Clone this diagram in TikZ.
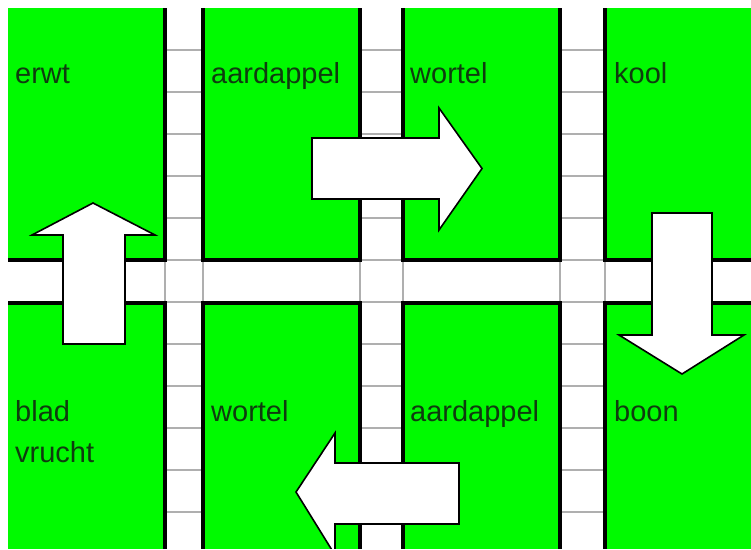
\documentclass[tikz,border=0pt]{standalone}
\usepackage{fontspec}
\setmainfont{Liberation Sans}
\definecolor{plotgreen}{RGB}{0,250,0}
\definecolor{labelcol}{RGB}{15,60,15}
\definecolor{tilegray}{RGB}{175,175,175}
\begin{document}
\begin{tikzpicture}[x=1pt,y=-1pt,
  plot/.style={fill=plotgreen, draw=black, line width=4pt},
  pathtile/.style={draw=tilegray, line width=1.3pt},
  bigarrow/.style={fill=white, draw=black, line width=1.6pt, line join=miter},
  lbl/.style={anchor=base west, inner sep=0pt, text=labelcol, font=\fontsize{29}{35}\selectfont}]
\useasboundingbox (0,0) rectangle (751,549);
\fill[white] (0,0) rectangle (751,549);
\begin{scope}
  \clip (8,8) rectangle (751,548);
  \fill[white] (8,8) rectangle (751,548);
  % plots
  \foreach \xa/\xb in {-20/165, 203/360, 403/560, 605/770} {
    \draw[plot] (\xa,-20) rectangle (\xb,260);
    \draw[plot] (\xa,303) rectangle (\xb,570);
  }
  % tiles of the paths
  \foreach \xa/\xb in {165/203, 360/403, 560/605} {
    \foreach \yy in {50,92,...,512} \draw[pathtile] (\xa+2,\yy) -- (\xb-2,\yy);
    \draw[pathtile] (\xa,262) -- (\xa,301);
    \draw[pathtile] (\xb,262) -- (\xb,301);
  }
  % arrows
  \draw[bigarrow] (63,344) -- (63,235) -- (32,235) -- (93,203) -- (155,235) -- (125,235) -- (125,344) -- cycle;
  \draw[bigarrow] (312,138) -- (439,138) -- (439,108) -- (482,168.5) -- (439,230) -- (439,199) -- (312,199) -- cycle;
  \draw[bigarrow] (652,213) -- (712,213) -- (712,335) -- (744,335) -- (682,374) -- (619,335) -- (652,335) -- cycle;
  \draw[bigarrow] (459,463) -- (459,524) -- (335,524) -- (335,555) -- (296,492) -- (335,433) -- (335,463) -- cycle;
\end{scope}
% labels
\node[lbl] (erwt) at (15,83) {erwt};
\node[lbl] (aardappel1) at (211,83) {aardappel};
\node[lbl] (wortel1) at (410,83) {wortel};
\node[lbl] (kool) at (614,83) {kool};
\node[lbl] (blad) at (15,421) {blad};
\node[lbl] (vrucht) at (15,462) {vrucht};
\node[lbl] (wortel2) at (211,421) {wortel};
\node[lbl] (aardappel2) at (410,421) {aardappel};
\node[lbl] (boon) at (614,421) {boon};
\end{tikzpicture}
\end{document}
